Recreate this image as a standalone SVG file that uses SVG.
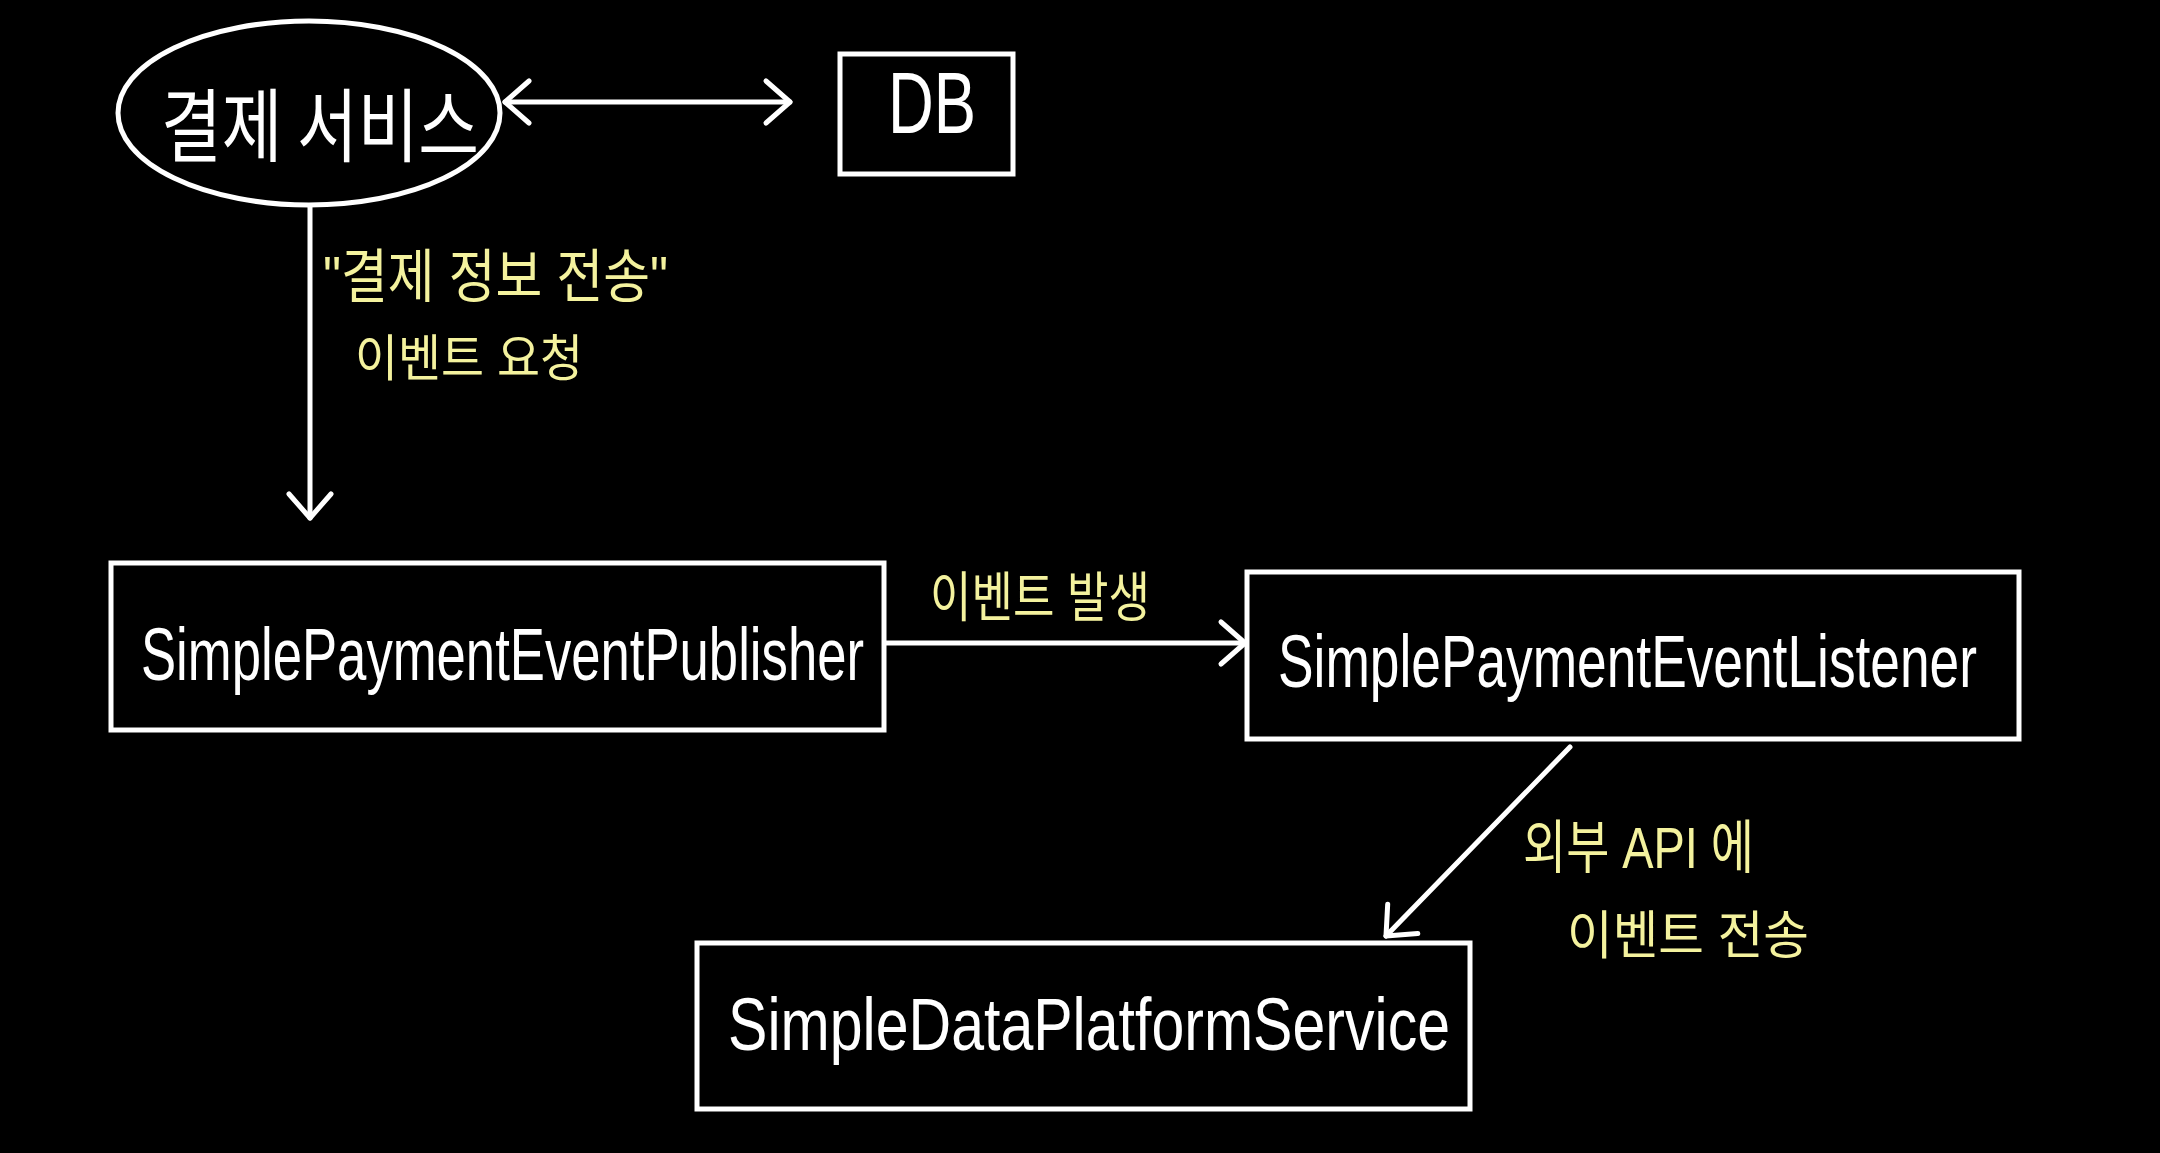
<svg xmlns="http://www.w3.org/2000/svg" width="2160" height="1153" viewBox="0 0 2160 1153">
<style>
.box{fill:#000;stroke:#fff;stroke-width:5}
.con{stroke:#fff;stroke-width:5;fill:none;stroke-linecap:round}
.w{fill:#fff;font-family:"Liberation Sans","Noto Sans CJK KR",sans-serif}
.k{fill:#fff;font-family:"Noto Sans CJK KR",sans-serif}
.y{fill:#F4F29E;font-family:"Liberation Sans","Noto Sans CJK KR",sans-serif}
</style>
<defs>
<marker id="arr" viewBox="0 0 40 50" markerWidth="40" markerHeight="50" refX="30" refY="25" orient="auto-start-reverse" markerUnits="userSpaceOnUse" overflow="visible">
<path d="M6,4 L30,25 L6,46" fill="none" stroke="#fff" stroke-width="5" stroke-linecap="round" stroke-linejoin="round"/>
</marker>
</defs>
<rect width="2160" height="1153" fill="#000"/>
<g id="connectors">
<line class="con" x1="505" y1="102" x2="790" y2="102" marker-start="url(#arr)" marker-end="url(#arr)"/>
<line class="con" x1="310" y1="207" x2="310" y2="518" marker-end="url(#arr)"/>
<line class="con" x1="886" y1="643" x2="1245" y2="643" marker-end="url(#arr)"/>
<line class="con" x1="1570" y1="747" x2="1386" y2="936" marker-end="url(#arr)"/>
<text class="y" x="323" y="297" font-size="58" textLength="345" lengthAdjust="spacingAndGlyphs">"결제 정보 전송"</text>
<text class="y" x="355" y="376" font-size="50" textLength="228" lengthAdjust="spacingAndGlyphs">이벤트 요청</text>
<text class="y" x="930" y="617" font-size="54" textLength="220" lengthAdjust="spacingAndGlyphs">이벤트 발생</text>
<text class="y" x="1523" y="868" font-size="58" textLength="231" lengthAdjust="spacingAndGlyphs">외부 API 에</text>
<text class="y" x="1567" y="954" font-size="52" textLength="242" lengthAdjust="spacingAndGlyphs">이벤트 전송</text>
</g>
<g id="payment-service">
<ellipse class="box" cx="309" cy="113" rx="191" ry="92"/>
<text class="k" x="161" y="155" font-size="80" textLength="318" lengthAdjust="spacingAndGlyphs">결제 서비스</text>
</g>
<g id="db">
<rect class="box" x="840" y="54" width="173" height="120"/>
<text class="w" x="888" y="133" font-size="88" textLength="88" lengthAdjust="spacingAndGlyphs">DB</text>
</g>
<g id="publisher">
<rect class="box" x="111" y="563" width="773" height="167"/>
<text class="w" x="141" y="680" font-size="75" textLength="723" lengthAdjust="spacingAndGlyphs">SimplePaymentEventPublisher</text>
</g>
<g id="listener">
<rect class="box" x="1247" y="572" width="772" height="167"/>
<text class="w" x="1278" y="687" font-size="75" textLength="699" lengthAdjust="spacingAndGlyphs">SimplePaymentEventListener</text>
</g>
<g id="data-platform">
<rect class="box" x="697" y="943" width="773" height="166"/>
<text class="w" x="728" y="1050" font-size="75" textLength="722" lengthAdjust="spacingAndGlyphs">SimpleDataPlatformService</text>
</g>
</svg>
